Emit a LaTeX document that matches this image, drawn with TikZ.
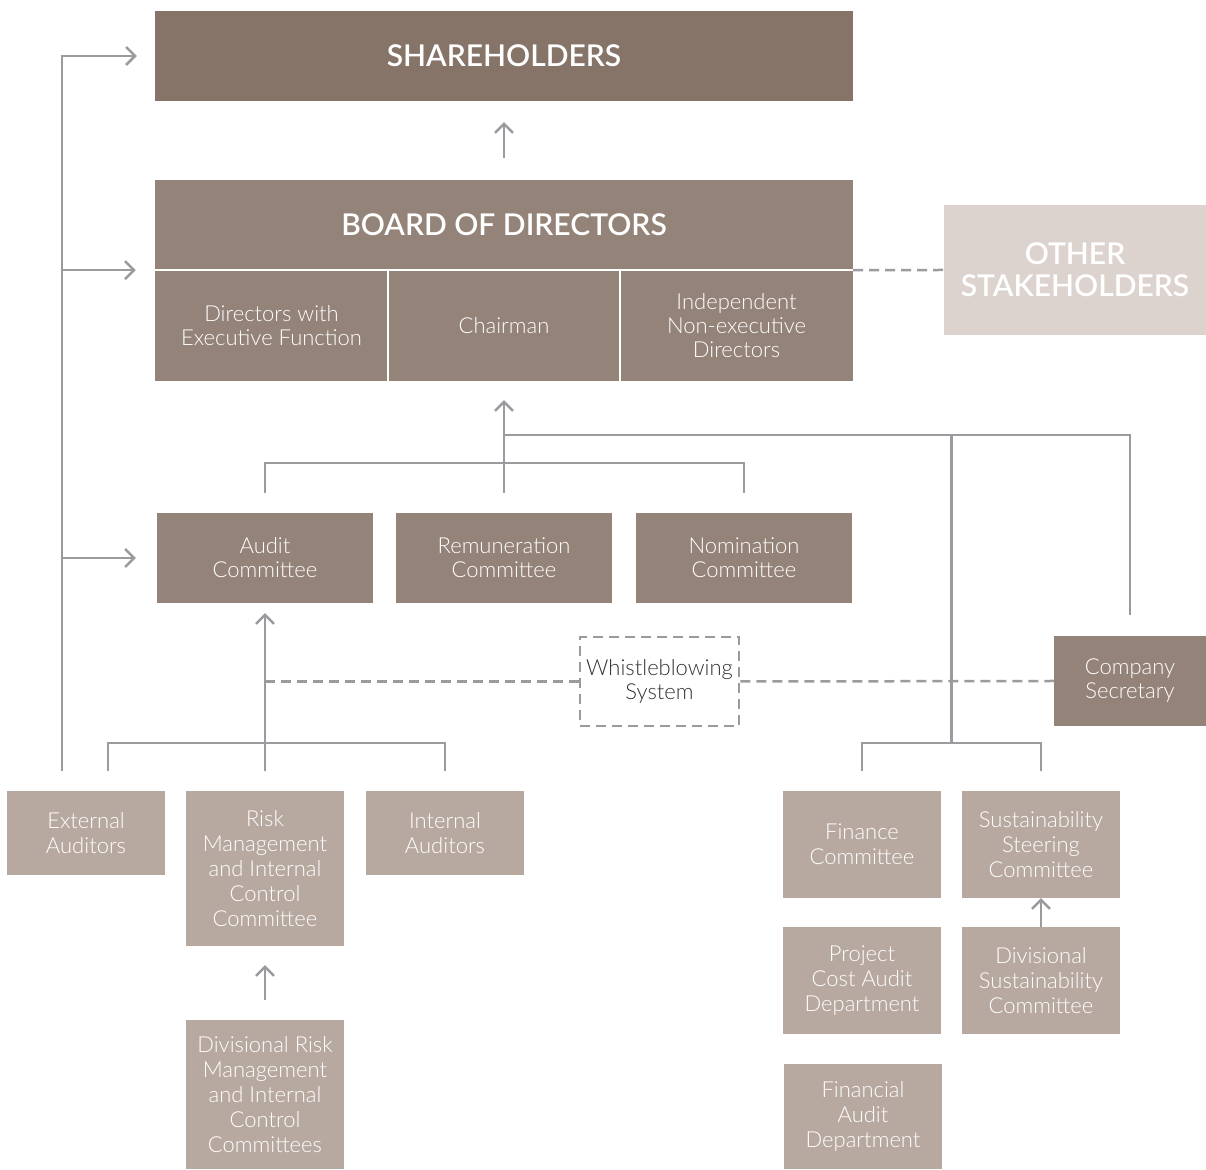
\documentclass[tikz,border=0pt]{standalone}
\usepackage{fontspec}
\setmainfont{Lato Light}
\newfontfamily\headfont{Lato Semibold}
\usetikzlibrary{arrows.meta,
                calc,
                positioning
            }

\definecolor{darkbrown}{HTML}{857467}
\definecolor{midbrown}{HTML}{948378}
\definecolor{lightbrown}{HTML}{B8A9A0}
\definecolor{paletaupe}{HTML}{DCD3CF}
\definecolor{linegrey}{HTML}{9B9B9F}

\begin{document}
\begin{tikzpicture}[x=1pt, y=1pt,
        box/.style={fill=midbrown, text=white, align=center, inner sep=0pt,
                    font=\fontsize{22}{24}\selectfont},
        headbox/.style={box, font=\headfont\fontsize{30}{32}\selectfont},
        subbox/.style={box, fill=lightbrown, minimum width=158pt,
                       font=\fontsize{22}{25}\selectfont},
        link/.style={draw=linegrey, line width=2.5pt},
        arr/.style={link, -{Straight Barb[length=9pt, width=18pt]}},
        dashlink/.style={link, dash pattern=on 10pt off 6pt}
    ]
            \useasboundingbox (0,0) rectangle (1206,1169);
            % top of the chart
            \node[headbox, fill=darkbrown, minimum width=698pt, minimum height=90pt] (share) at (504,1113) {SHAREHOLDERS};
            \node[headbox, minimum width=698pt, minimum height=90pt] (title) at (504,944) {BOARD OF DIRECTORS};
            \node[box, minimum width=233pt, minimum height=111pt] (exec) at (271.5,843.5) {Directors with\\Executive Function};
            \node[box, minimum width=232pt, minimum height=111pt] (chair) at (504,843.5) {Chairman};
            \node[box, minimum width=233pt, minimum height=111pt] (indep) at (736.5,843.5) {Independent\\Non-executive\\Directors};
            \draw[white, line width=2.5pt] (title.south west) -- (title.south east);
            \draw[white, line width=2.5pt] (exec.north east) -- (exec.south east);
            \draw[white, line width=2.5pt] (chair.north east) -- (chair.south east);
            \node[headbox, fill=paletaupe, minimum width=262pt, minimum height=130pt] (other) at (1075,899) {OTHER\\STAKEHOLDERS};

            % committees
            \node[box, minimum width=216pt, minimum height=90pt] (audit) at (265,611) {Audit\\Committee};
            \node[box, minimum width=216pt, minimum height=90pt] (remun) at (504,611) {Remuneration\\Committee};
            \node[box, minimum width=216pt, minimum height=90pt] (nomin) at (744,611) {Nomination\\Committee};
            \node[box, minimum width=152pt, minimum height=90pt] (secr) at (1130,488) {Company\\Secretary};
            \node[box, fill=white, text=black!80, draw=linegrey, line width=2.5pt, dash pattern=on 10pt off 6pt,
                  minimum width=159pt, minimum height=89pt] (whistle) at (659.5,487.5) {Whistleblowing\\System};

            % lower boxes
            \node[subbox, minimum height=84pt] (extaud) at (86,336) {External\\Auditors};
            \node[subbox, minimum height=155pt] (riskm) at (265,300.5) {Risk\\Management\\and Internal\\Control\\Committee};
            \node[subbox, minimum height=84pt] (intaud) at (445,336) {Internal\\Auditors};
            \node[subbox, minimum height=149pt] (divrisk) at (265,74.5) {Divisional Risk\\Management\\and Internal\\Control\\Committees};
            \node[subbox, minimum height=107pt] (finance) at (862,324.5) {Finance\\Committee};
            \node[subbox, minimum height=107pt] (sustain) at (1041,324.5) {Sustainability\\Steering\\Committee};
            \node[subbox, minimum height=107pt] (projcost) at (862,188.5) {Project\\Cost Audit\\Department};
            \node[subbox, minimum height=107pt] (divsust) at (1041,188.5) {Divisional\\Sustainability\\Committee};
            \node[subbox, minimum height=105pt] (finaudit) at (863,52.5) {Financial\\Audit\\Department};

            % connectors
            \draw[arr] ([yshift=22pt]title.north) -- ([yshift=-21pt]share.south);
            \draw[arr] ([xshift=-24pt, yshift=20pt]extaud.north) |- ([xshift=-18pt]share.west);
            \draw[arr] ([xshift=-24pt, yshift=20pt]extaud.north) |- ([xshift=-19pt]title.south west);
            \draw[arr] ([xshift=-24pt, yshift=20pt]extaud.north) |- ([xshift=-21pt]audit.west);
            \draw[dashlink] (title.south east) -- (other.west);

            \draw[link] ([yshift=20pt]audit.north) -- ++(0,30) -| ([yshift=20pt]nomin.north);
            \draw[arr] ([yshift=20pt]remun.north) -- ([yshift=-19pt]chair.south);
            \draw[link] ([yshift=21pt]secr.north) |- ([yshift=78pt]remun.north);

            \draw[link] ([xshift=22pt, yshift=20pt]extaud.north) -- ++(0,28) -| ([yshift=20pt]intaud.north);
            \draw[arr] ([yshift=20pt]riskm.north) -- ([yshift=-10pt]audit.south);
            \draw[arr] ([yshift=20pt]divrisk.north) -- ([yshift=-19pt]riskm.south);
            \draw[dashlink] (whistle.west -| riskm.north) -- (whistle.west);
            \draw[dashlink] (whistle.east) -- (secr.west);

            \draw[link] ([yshift=20pt]finance.north) -- ++(0,28) -| ([yshift=20pt]sustain.north);
            \draw[link] ($(finance.north)!0.5!(sustain.north)+(0,48)$) -- ++(0,308);
            \draw[arr] (divsust.north) -- (sustain.south);
        \end{tikzpicture}
\end{document}
